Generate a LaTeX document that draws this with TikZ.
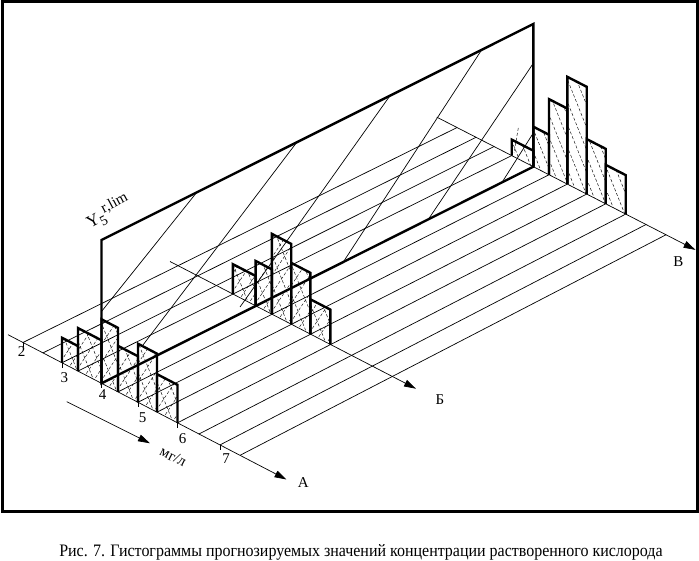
\documentclass[tikz,border=0pt]{standalone}
\usepackage{fontspec}
\setmainfont{Liberation Serif}
\usetikzlibrary{calc,arrows.meta}
\begin{document}
\begin{tikzpicture}[x=1pt,y=-1pt,
  thinl/.style={line width=0.7pt},
  boldl/.style={line width=2.4pt, line join=miter},
  hatchl/.style={line width=0.45pt, dash pattern=on 3pt off 2pt},
  axisarrow/.style={line width=0.7pt, -{Triangle[length=12pt,width=7pt]}},
  lbl/.style={font=\fontsize{15}{15}\selectfont, inner sep=0pt},
]
\useasboundingbox (0,0) rectangle (699,561);
\draw[line width=3pt] (2,2) rectangle (697,511.5);

% grid points on axes A, B (Б) and V (В)
\foreach \i/\x in {0/23,1/43,2/62,3/78,4/101.5,5/118,6/138,7/157,8/177.5,9/199,10/220,11/240}
  \coordinate (A\i) at (\x, {383.3+0.52*(\x-101.5)});
\foreach \i/\x in {0/457,1/476,2/494,3/511.7,4/533.3,5/549,6/567.3,7/586.7,8/605.7,9/625.7,10/646,11/666}
  \coordinate (V\i) at (\x, {166.7+0.513*(\x-533.3)});
\foreach \i in {0,...,11} \coordinate (S\i) at ($(A\i)!0.357!(V\i)$);

% axes
\coordinate (Astart) at (8,334.7);
\coordinate (Aend) at (286.5,479.5);
\coordinate (Sstart) at (170,261.5);
\coordinate (Send) at (416,388.7);
\coordinate (Vstart) at (436.7,117.1);
\coordinate (Vend) at (695.5,249.9);
\draw[axisarrow] (Astart) -- (Aend);
\draw[axisarrow] (Sstart) -- (Send);
\draw[axisarrow] (Vstart) -- (Vend);

% floor lines
\foreach \i in {0,...,11} \draw[thinl] (A\i) -- (V\i);

% ticks
\foreach \i in {0,2,...,10} \draw[thinl] (A\i) -- ++(0,5);

% limit plane
\coordinate (PTL) at (101.5,240);
\coordinate (PTR) at (533.3,24);
\foreach \a/\b/\c/\d in {196.7/192.4/101.5/311.5, 296.7/142.4/141.7/346.7, 390/95.7/240/307,
  481.7/49.8/343.3/262, 533.3/63.3/428.3/219.4, 533.3/133/502/182.4}
  \draw[thinl] (\a,\b) -- (\c,\d);
\draw[boldl] (A4) -- (PTL) -- (PTR) -- (V4) -- cycle;

% histogram at A (cross-hatched)
\foreach \i/\j/\h in {2/3/25, 3/4/43, 4/5/64, 5/6/46, 6/7/58.5, 7/8/38} {
  \begin{scope}
    \clip (A\i) -- ($(A\i)+(0,-\h)$) -- ($(A\j)+(0,-\h)$) -- (A\j) -- cycle;
    \foreach \k in {-9,...,2} {
      \draw[hatchl] ($(A\i)+(\k*12,-150)$) -- ++(64,160);
      \draw[hatchl] ($(A\i)+(\k*12,15)$) -- ++(110,-165);
    }
  \end{scope}
  \draw[boldl] (A\i) -- ++(0,-\h) -- ($(A\j)+(0,-\h)$) -- (A\j);
}

% histogram at B (cross-hatched)
\foreach \i/\j/\h in {3/4/30, 4/5/45, 5/6/80.5, 6/7/61.5, 7/8/35} {
  \begin{scope}
    \clip (S\i) -- ($(S\i)+(0,-\h)$) -- ($(S\j)+(0,-\h)$) -- (S\j) -- cycle;
    \foreach \k in {-9,...,2} {
      \draw[hatchl] ($(S\i)+(\k*12,-150)$) -- ++(64,160);
      \draw[hatchl] ($(S\i)+(\k*12,15)$) -- ++(110,-165);
    }
  \end{scope}
  \draw[boldl] (S\i) -- ++(0,-\h) -- ($(S\j)+(0,-\h)$) -- (S\j);
}

% histogram at V (single hatch)
\foreach \i/\j/\h in {3/4/16, 4/5/40, 5/6/75.6, 6/7/107.3, 7/8/55, 8/9/39} {
  \begin{scope}
    \clip (V\i) -- ($(V\i)+(0,-\h)$) -- ($(V\j)+(0,-\h)$) -- (V\j) -- cycle;
    \foreach \k in {-14,...,3} {
      \draw[hatchl] ($(V\i)+(\k*9,-150)$) -- ++(64,160);
    }
  \end{scope}
  \draw[boldl] (V\i) -- ++(0,-\h) -- ($(V\j)+(0,-\h)$) -- (V\j);
}
\coordinate (dq1) at (518.3,128);
\coordinate (dq2) at (514,153);
\draw[hatchl] (dq1) -- (dq2);

% unit arrow
\coordinate (u1) at (66.7,401.7);
\coordinate (u2) at (150,443.3);
\draw[axisarrow] (u1) -- (u2);

% labels
\node[lbl] (l2) at (21.7,351.7) {2};
\node[lbl] (l3) at (64.3,377.7) {3};
\node[lbl] (l4) at (102.7,395) {4};
\node[lbl] (l5) at (142.7,417.3) {5};
\node[lbl] (l6) at (182.7,438.3) {6};
\node[lbl] (l7) at (226,458.3) {7};
\node[lbl, rotate=-27] (lu) at (173.3,456.7) {мг/л};
\node[lbl] (lA) at (303.3,482.7) {А};
\node[lbl] (lB) at (440,400) {Б};
\node[lbl] (lV) at (678.3,261.7) {В};
\node[rotate=28, anchor=base west, inner sep=0pt, font=\fontsize{17}{17}\selectfont] (ly) at (90,229)
  {Y\rlap{\raisebox{-4pt}{\fontsize{14}{14}\selectfont 5}}\hspace{7pt}\raisebox{7pt}{\fontsize{15}{15}\selectfont r,lim}};
\node[font=\fontsize{17.5}{17.5}\selectfont, inner sep=0pt, anchor=base, xscale=0.913] (cap) at (361,556.5)
  {Рис. 7. Гистограммы прогнозируемых значений концентрации растворенного кислорода};
\end{tikzpicture}
\end{document}
